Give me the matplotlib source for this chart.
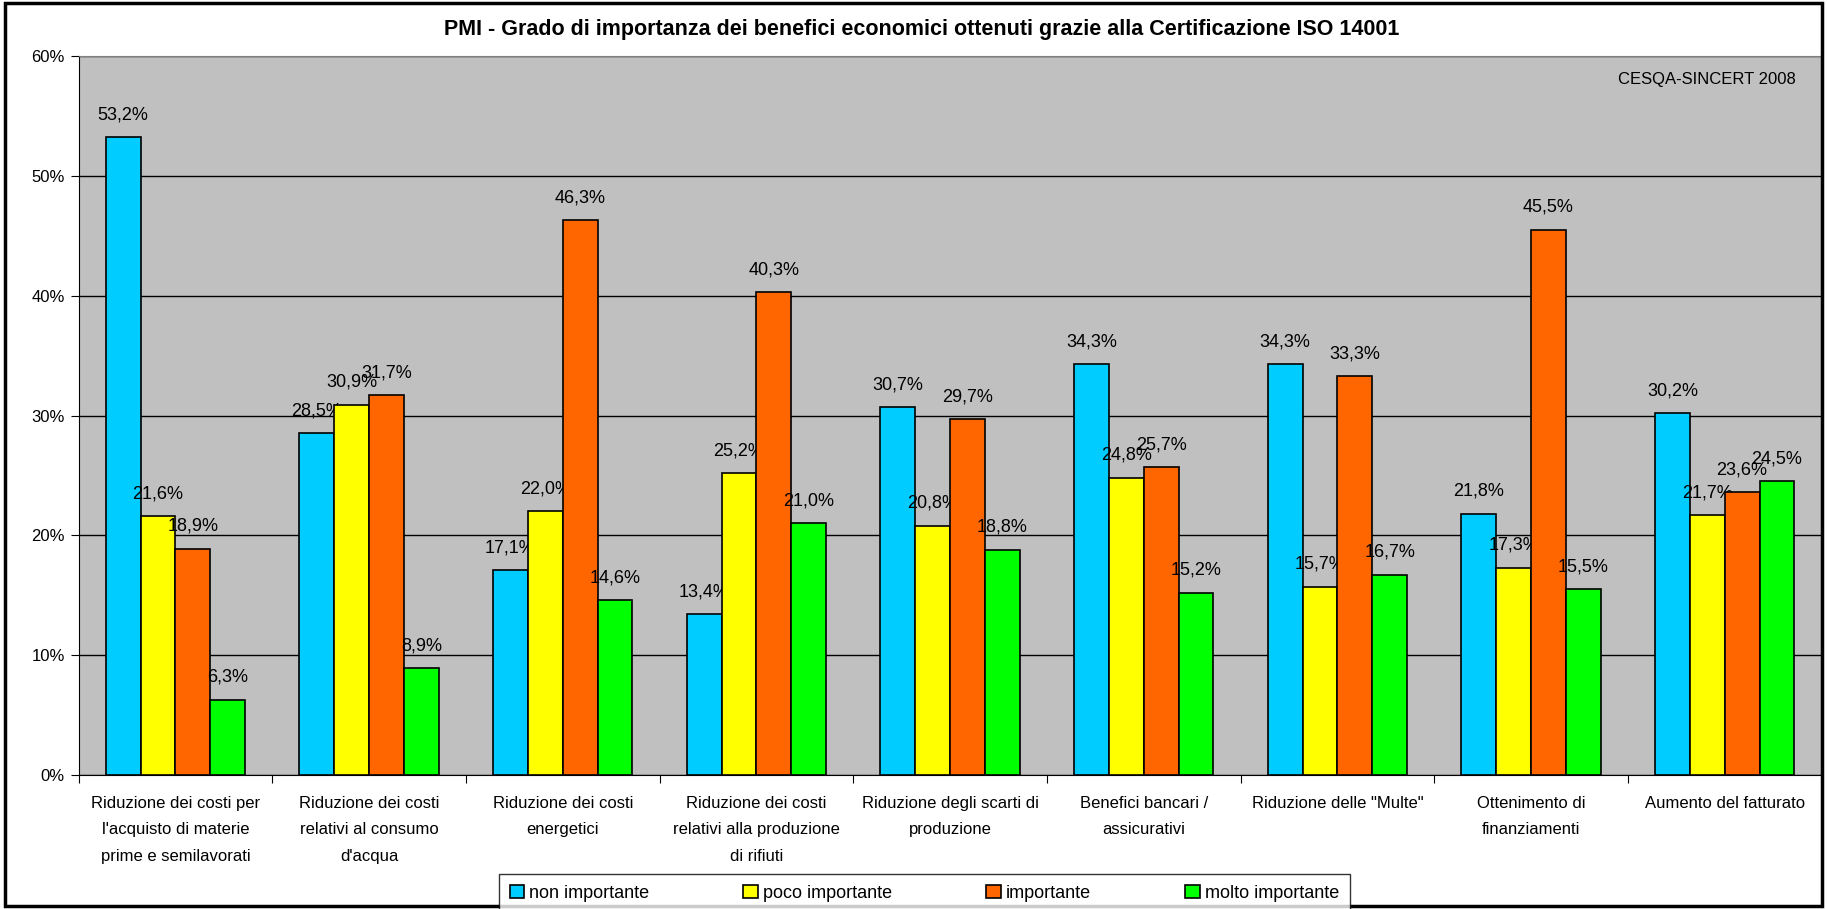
import matplotlib.pyplot as plt
import numpy as np
from matplotlib.patches import Rectangle

plt.rcParams['font.family'] = ['Liberation Sans', 'DejaVu Sans']

categories = [
    "Riduzione dei costi per\nl'acquisto di materie\nprime e semilavorati",
    "Riduzione dei costi\nrelativi al consumo\nd'acqua",
    "Riduzione dei costi\nenergetici",
    "Riduzione dei costi\nrelativi alla produzione\ndi rifiuti",
    "Riduzione degli scarti di\nproduzione",
    "Benefici bancari /\nassicurativi",
    "Riduzione delle \"Multe\"",
    "Ottenimento di\nfinanziamenti",
    "Aumento del fatturato",
]
series_names = ["non importante", "poco importante", "importante", "molto importante"]
non_importante = [53.2, 28.5, 17.1, 13.4, 30.7, 34.3, 34.3, 21.8, 30.2]
poco_importante = [21.6, 30.9, 22.0, 25.2, 20.8, 24.8, 15.7, 17.3, 21.7]
importante = [18.9, 31.7, 46.3, 40.3, 29.7, 25.7, 33.3, 45.5, 23.6]
molto_importante = [6.3, 8.9, 14.6, 21.0, 18.8, 15.2, 16.7, 15.5, 24.5]
colors = ['#00CCFF', '#FFFF00', '#FF6600', '#00FF00']

fig = plt.figure(figsize=(18.27, 9.09), dpi=100)
ax = fig.add_axes([0.043, 0.1474, 0.954, 0.791])
ax.set_facecolor('#C0C0C0')

x = np.arange(len(categories)) + 0.5
width = 0.18
all_series = [non_importante, poco_importante, importante, molto_importante]
for k, (vals, name, col) in enumerate(zip(all_series, series_names, colors)):
    pos = x + (k - 1.5) * width
    ax.bar(pos, vals, width, color=col, edgecolor='black', linewidth=1.2,
           label=name, zorder=3)
    for px, v in zip(pos, vals):
        ax.annotate(f"{v:.1f}%".replace('.', ','), (px, v), xytext=(0, 10),
                    textcoords='offset points', ha='center', va='bottom',
                    fontsize=13)

ax.set_xlim(0, len(categories))
ax.set_ylim(0, 60)
ax.set_yticks(np.arange(0, 61, 10))
ax.set_yticklabels([f"{t}%" for t in range(0, 61, 10)], fontsize=12)
ax.yaxis.grid(True, color='black', linewidth=1.0, zorder=0)
ax.set_axisbelow(True)

ax.set_xticks(np.arange(len(categories) + 1))
ax.set_xticklabels([])
ax.set_xticks(x, minor=True)
ax.set_xticklabels(categories, minor=True, fontsize=12, linespacing=1.95)
ax.tick_params(axis='x', which='minor', length=0, pad=15)
ax.tick_params(axis='x', which='major', length=6, direction='out')
ax.tick_params(axis='y', length=6, direction='out', pad=4)

for s in ['top', 'right']:
    ax.spines[s].set_color('#808080')
ax.spines['left'].set_color('black')
ax.spines['bottom'].set_color('black')

ax.text(0.985, 0.968, "CESQA-SINCERT 2008", transform=ax.transAxes,
        ha='right', va='center', fontsize=12)

fig.text(0.5045, 0.968, "PMI - Grado di importanza dei benefici economici ottenuti grazie alla Certificazione ISO 14001",
         ha='center', va='center', fontsize=15.5, fontweight='bold')

leg = fig.legend(loc='lower center', bbox_to_anchor=(0.506, -0.014), ncol=4,
                 fontsize=13, frameon=True, fancybox=False, edgecolor='black',
                 handlelength=0.8, handleheight=0.8, columnspacing=5.2,
                 handletextpad=0.3, borderpad=0.6)
leg.get_frame().set_linewidth(1.0)

fig.patches.append(Rectangle((0.003, 0.003), 0.994, 0.994, transform=fig.transFigure,
                             fill=False, edgecolor='black', linewidth=2.5))

fig.savefig('out.png', dpi=100)
